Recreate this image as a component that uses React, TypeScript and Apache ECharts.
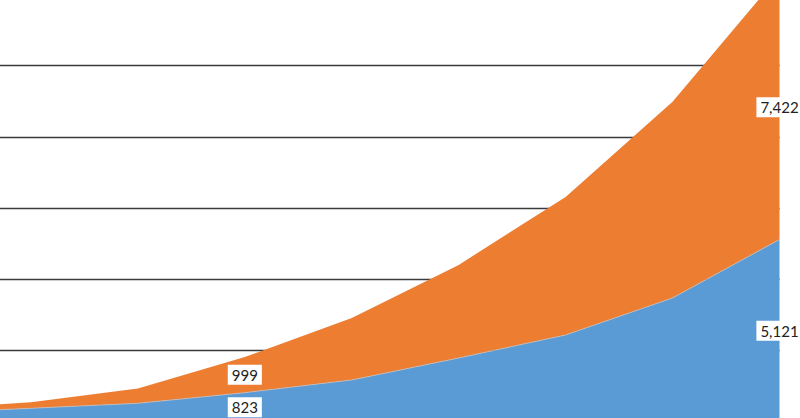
import React, { useEffect, useRef } from "react";
import * as echarts from "echarts";

// categories are point indices (0..8); the first point lies off the left edge
const categories = ["0", "1", "2", "3", "4", "5", "6", "7", "8"];
const seriesBlue = [250, 385, 525, 823, 1179, 1796, 2442, 3481, 5121];
const seriesOrange = [120, 168, 415, 999, 1740, 2611, 3874, 5501, 7422];
const labelIndices = [3, 8];
const yTicks = { min: 0, max: 14000, interval: 2000 };

export default function App() {
  const ref = useRef<HTMLDivElement>(null);
  useEffect(() => {
    if (!ref.current) return;
    const chart = echarts.init(ref.current, undefined, { renderer: "svg" });
    const labelData: any[] = [];
    labelIndices.forEach((i) => {
      labelData.push({ value: [categories[i], seriesBlue[i] / 2], raw: seriesBlue[i] });
      labelData.push({
        value: [categories[i], seriesBlue[i] + seriesOrange[i] / 2],
        raw: seriesOrange[i],
      });
    });
    chart.setOption({
      animation: false,
      grid: { left: 0, right: 44.5, top: 0, bottom: 1, containLabel: false },
      xAxis: {
        type: "category",
        data: categories,
        boundaryGap: false,
        axisLine: { show: false },
        axisTick: { show: false },
        axisLabel: { show: false },
        splitLine: { show: false },
      },
      yAxis: {
        type: "value",
        min: yTicks.min,
        max: yTicks.max,
        interval: yTicks.interval,
        axisLine: { show: false },
        axisTick: { show: false },
        axisLabel: { show: false },
        splitLine: { show: true, lineStyle: { color: "#3a3a3a", width: 1.4 } },
      },
      series: [
        {
          type: "line",
          stack: "total",
          data: seriesBlue,
          symbol: "none",
          lineStyle: { width: 0.8, color: "#c9bdb5" },
          areaStyle: { color: "#5B9BD5", opacity: 1 },
          z: 2,
        },
        {
          type: "line",
          stack: "total",
          data: seriesOrange,
          symbol: "none",
          lineStyle: { width: 0 },
          areaStyle: { color: "#ED7D31", opacity: 1 },
          z: 1,
        },
        {
          type: "scatter",
          data: labelData,
          symbolSize: 0,
          itemStyle: { opacity: 1 },
          z: 5,
          label: {
            show: true,
            position: "inside",
            formatter: (p: any) => p.data.raw.toLocaleString("en-US"),
            backgroundColor: "#ffffff",
            padding: [3, 4, 2, 4],
            color: "#222",
            fontSize: 15,
            fontFamily: "Lato, 'Open Sans', sans-serif",
          },
        },
      ],
    });
    return () => chart.dispose();
  }, []);
  return (
    <div
      style={{
        position: "fixed",
        left: 0,
        top: 0,
        width: 800,
        height: 418,
        overflow: "hidden",
        background: "#fff",
      }}
    >
      <div
        ref={ref}
        style={{ position: "absolute", left: -76, top: -77, width: 900, height: 500 }}
      />
    </div>
  );
}
